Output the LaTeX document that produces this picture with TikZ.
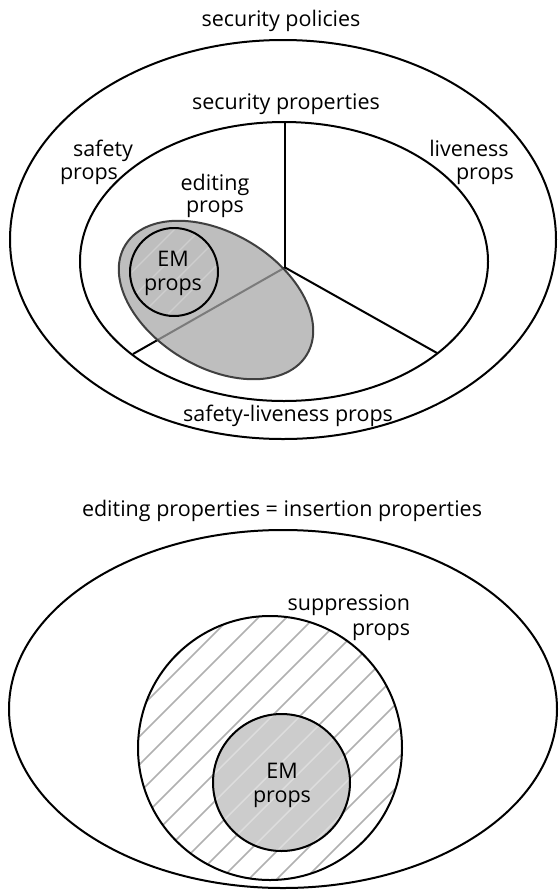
\documentclass[tikz,border=0pt]{standalone}
\usepackage{fontspec}
\setmainfont{Open Sans}
\definecolor{edfill}{gray}{0.745}
\definecolor{edline}{gray}{0.25}
\definecolor{emfill}{gray}{0.8}
\definecolor{hatchc}{gray}{0.69}
\begin{document}
\begin{tikzpicture}[x=1pt,y=-1pt,line width=2pt,
  lbl/.style={font=\fontsize{21.5}{25}\selectfont,inner sep=0pt,anchor=base},
  hatchline/.style={draw=hatchc,line width=1.6pt},
  faintline/.style={draw=white,line width=1.4pt,opacity=0.35}]
\useasboundingbox (0,0) rectangle (559,892);
\fill[white] (0,0) rectangle (559,892);

% ---------- top diagram ----------
\node[lbl] (secpol) at (281,26) {security policies};
\draw (283,239.5) ellipse [x radius=273, y radius=199.5];
\node[lbl] (secprop) at (286,109) {security properties};
\draw (284,261.5) ellipse [x radius=204, y radius=139.5];

\coordinate (hub) at (285,267.5);
\coordinate (topend) at (285,122);
\coordinate (rend) at (437,353);
\coordinate (lend) at (133,354);
\draw (hub) -- (topend);
\draw (hub) -- (rend);
\draw (hub) -- (lend);

\fill[edfill,rotate around={-31:(216,300)}] (216,300) ellipse [x radius=106, y radius=67];
\begin{scope}
  \clip[rotate around={-31:(216,300)}] (216,300) ellipse [x radius=106, y radius=67];
  \draw[draw=black,opacity=0.35] (hub) -- (lend);
  \begin{scope}
    \clip (174,272) circle [radius=44];
    \foreach \c in {300,326,...,560} \draw[faintline,opacity=0.25] (100,\c-100) -- (300,\c-300);
  \end{scope}
\end{scope}
\draw[edline,rotate around={-31:(216,300)}] (216,300) ellipse [x radius=106, y radius=67];
\draw (174,272) circle [radius=44];

\node[lbl] (emA1) at (173,266) {EM};
\node[lbl] (emA2) at (173,290) {props};
\node[lbl] (saf1) at (103,156) {safety};
\node[lbl] (saf2) at (89,179) {props};
\node[lbl] (liv1) at (469,156) {liveness};
\node[lbl] (liv2) at (485,179) {props};
\node[lbl] (edi1) at (215,190) {editing};
\node[lbl] (edi2) at (215,212) {props};
\node[lbl] (sl) at (288,421) {safety-liveness props};

% ---------- bottom diagram ----------
\node[lbl] (eqtitle) at (282,516) {editing properties = insertion properties};
\draw (283,709) ellipse [x radius=274, y radius=179];

\begin{scope}
  \clip (270,748) circle [radius=132];
  \foreach \c in {792,820,...,1300} \draw[hatchline] (100,\c-100) -- (450,\c-450);
\end{scope}
\fill[emfill] (281.5,782.5) circle [radius=68.5];
\begin{scope}
  \clip (281.5,782.5) circle [radius=68.5];
  \foreach \c in {792,820,...,1300} \draw[faintline] (100,\c-100) -- (450,\c-450);
\end{scope}
\draw (270,748) circle [radius=132];
\draw (281.5,782.5) circle [radius=68.5];

\node[lbl,anchor=base east] (sup1) at (411,610) {suppression};
\node[lbl,anchor=base east] (sup2) at (411,635) {props};
\node[lbl] (emB1) at (282,778) {EM};
\node[lbl] (emB2) at (282,802) {props};
\end{tikzpicture}
\end{document}
